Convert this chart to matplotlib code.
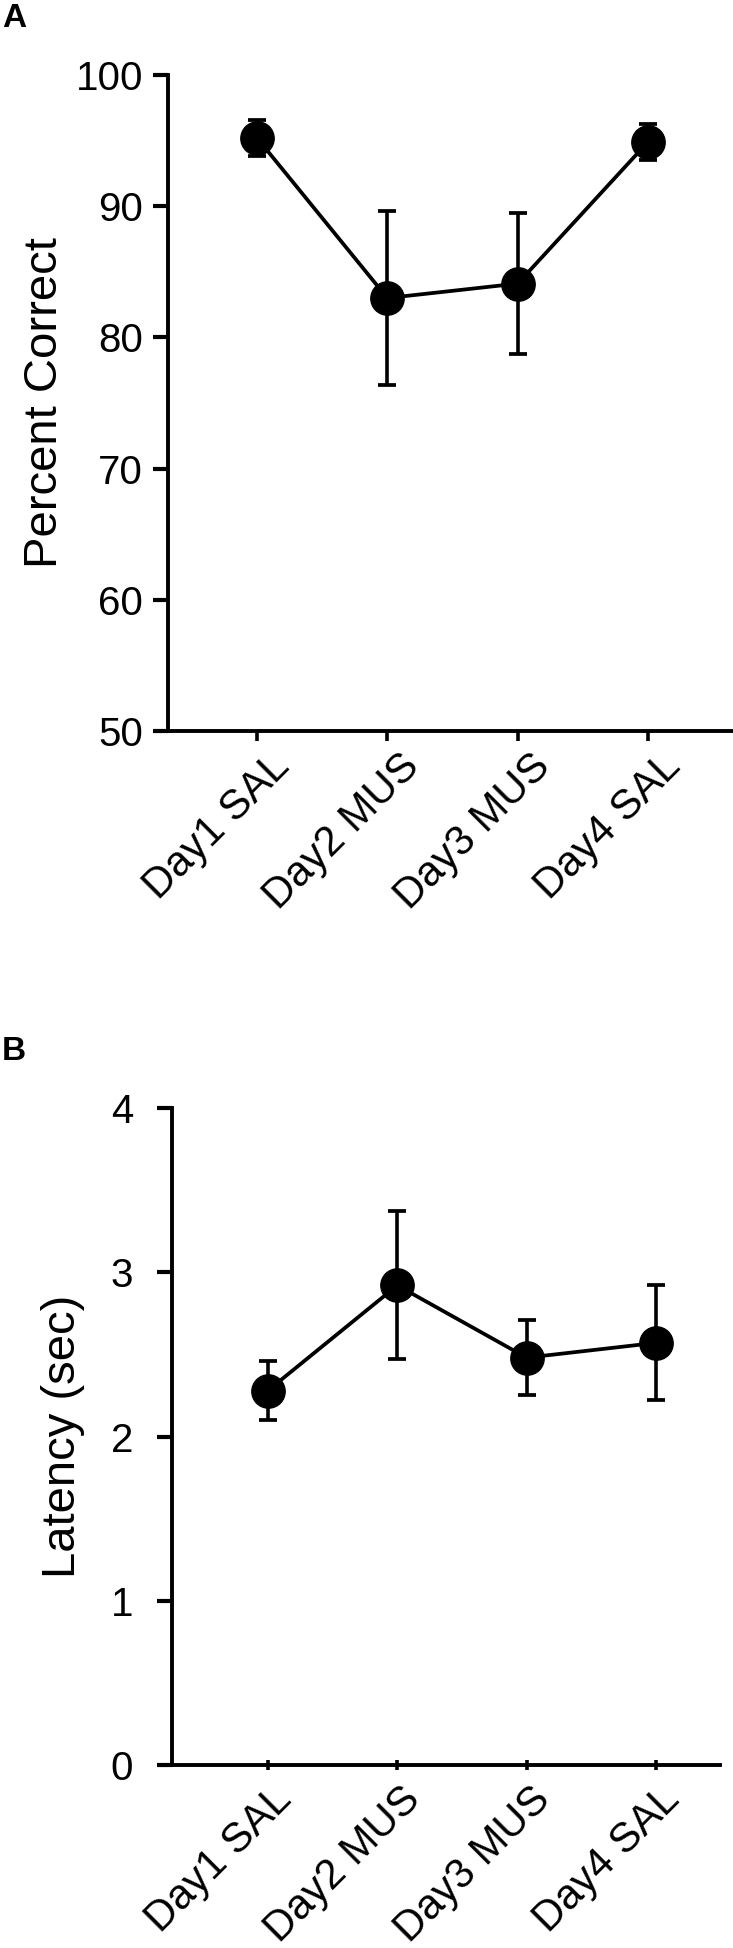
import matplotlib
matplotlib.use("Agg")
import matplotlib.pyplot as plt
import matplotlib.transforms as mtransforms

plt.rcParams['font.family'] = ['Liberation Sans', 'DejaVu Sans']

days = ['Day1 SAL', 'Day2 MUS', 'Day3 MUS', 'Day4 SAL']

# panel A: percent correct (mean +/- error)
pct_mean = [95.2, 83.0, 84.1, 94.9]
pct_err = [1.35, 6.6, 5.35, 1.4]
pct_ticks = [50, 60, 70, 80, 90, 100]

# panel B: latency in seconds (mean +/- error)
lat_mean = [2.28, 2.92, 2.48, 2.57]
lat_err = [0.18, 0.45, 0.23, 0.35]
lat_ticks = [0, 1, 2, 3, 4]

W, H = 733, 1948
fig = plt.figure(figsize=(W / 100, H / 100), dpi=100, facecolor='w')


def draw_panel(ax, mean, err, ticks, ylabel, ylab_x, ypad, xdir, label_off):
    x = list(range(len(days)))
    ax.errorbar(x, mean, yerr=err, color='black', lw=2.7, elinewidth=2.6,
                capsize=6.5, capthick=2.7, marker='o', markersize=24,
                markerfacecolor='black', markeredgecolor='black', zorder=3)
    ax.set_ylim(ticks[0], ticks[-1])
    ax.set_yticks(ticks)
    ax.set_xticks(x)
    ax.set_xticklabels(days, rotation=45, ha='right', va='top',
                       rotation_mode='anchor', fontsize=30)
    for side in ['top', 'right']:
        ax.spines[side].set_visible(False)
    for side in ['left', 'bottom']:
        ax.spines[side].set_linewidth(2.8)
    ax.tick_params(axis='y', direction='out', length=11, width=3,
                   labelsize=29, pad=ypad)
    ax.tick_params(axis='x', direction=xdir, length=7, width=2.6, pad=4)
    off = mtransforms.ScaledTranslation(label_off[0] / 100, label_off[1] / 100,
                                        fig.dpi_scale_trans)
    for lab in ax.get_xticklabels():
        lab.set_transform(lab.get_transform() + off)
    ax.set_ylabel(ylabel, fontsize=34, va='center')
    ax.yaxis.set_label_coords(ylab_x, 0.5)


# axes placed from the reference pixel layout
axA = fig.add_axes([168 / W, 1 - 731 / H, (W - 168) / W, (731 - 75) / H])
axA.set_xlim(-0.683, 3.652)
draw_panel(axA, pct_mean, pct_err, pct_ticks, 'Percent Correct', -0.218, 7,
           'out', (12, 0))

axB = fig.add_axes([172 / W, 1 - 1765 / H, (720 - 172) / W, (1765 - 1108) / H])
axB.set_xlim(-0.742, 3.495)
draw_panel(axB, lat_mean, lat_err, lat_ticks, 'Latency (sec)', -0.199, 17,
           'inout', (3, -4))

fig.text(2 / W, 1 - 3 / H, 'A', fontsize=24, fontweight='bold', va='top')
fig.text(2 / W, 1 - 1036 / H, 'B', fontsize=24, fontweight='bold', va='top')

fig.savefig('out.png', dpi=100, facecolor='w')
